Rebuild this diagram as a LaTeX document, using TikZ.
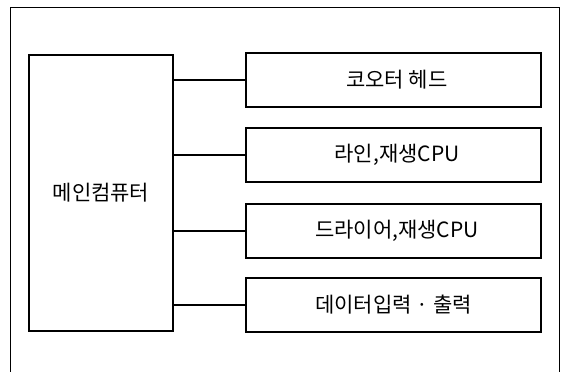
\documentclass[tikz,border=0pt]{standalone}
\usepackage{fontspec}
\newfontfamily\kr{Noto Sans CJK KR}
\begin{document}
\begin{tikzpicture}[x=1pt,y=-1pt,
  box/.style={draw, line width=1.7pt, inner sep=0pt, font=\kr\fontsize{21}{24}\selectfont},
  sub/.style={box, minimum width=295pt, minimum height=54pt},
  conn/.style={line width=1.7pt}]
\useasboundingbox (0,0) rectangle (563,372);
\draw[line width=0.9pt] (10,372) -- (10,7.5) -- (559,7.5) -- (559,372);
\node[box, minimum width=144pt, minimum height=276pt] (mc) at (101,193) {메인컴퓨터};
\node[sub] (b1) at (393.5,80) {\hspace{7pt}코오터 헤드};
\node[sub] (b2) at (393.5,154.7) {\hspace{7pt}라인,재생CPU};
\node[sub] (b3) at (393.5,230.7) {\hspace{7pt}드라이어,재생CPU};
\node[sub] (b4) at (393.5,304.7) {데이터입력 · 출력};
\foreach \b in {b1,b2,b3,b4}
  \draw[conn] (mc.east |- \b.west) -- (\b.west);
\end{tikzpicture}
\end{document}
